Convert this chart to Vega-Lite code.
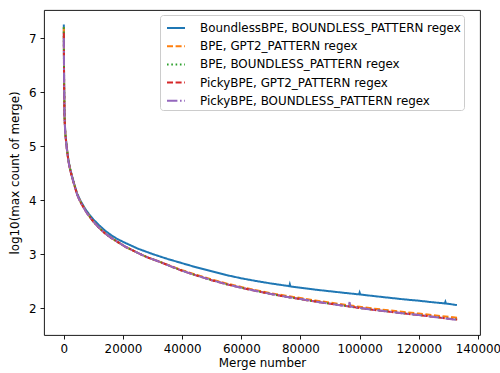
{
  "$schema": "https://vega.github.io/schema/vega-lite/v6.json",
  "width": 436,
  "height": 325,
  "autosize": {"type": "none"},
  "padding": {"left": 44, "top": 10, "right": 20, "bottom": 38},
  "config": {
    "view": {"stroke": "black", "strokeWidth": 0.9},
    "font": "DejaVu Sans",
    "axis": {
      "domain": false,
      "grid": false,
      "tickColor": "black",
      "tickSize": 4,
      "tickWidth": 0.9,
      "labelFont": "DejaVu Sans",
      "labelFontSize": 11.9,
      "labelColor": "black",
      "titleFont": "DejaVu Sans",
      "titleFontSize": 11.9,
      "titleFontWeight": "normal",
      "titleColor": "black",
      "labelPadding": 4
    }
  },
  "datasets": {
    "curves": [
      {"s": "BoundlessBPE, BOUNDLESS_PATTERN regex", "m": 0, "y": 7.25},
      {"s": "BoundlessBPE, BOUNDLESS_PATTERN regex", "m": 30, "y": 6.8},
      {"s": "BoundlessBPE, BOUNDLESS_PATTERN regex", "m": 100, "y": 6.18},
      {"s": "BoundlessBPE, BOUNDLESS_PATTERN regex", "m": 240, "y": 5.57},
      {"s": "BoundlessBPE, BOUNDLESS_PATTERN regex", "m": 500, "y": 5.25},
      {"s": "BoundlessBPE, BOUNDLESS_PATTERN regex", "m": 1000, "y": 4.98},
      {"s": "BoundlessBPE, BOUNDLESS_PATTERN regex", "m": 1500, "y": 4.76},
      {"s": "BoundlessBPE, BOUNDLESS_PATTERN regex", "m": 2000, "y": 4.61},
      {"s": "BoundlessBPE, BOUNDLESS_PATTERN regex", "m": 2700, "y": 4.46},
      {"s": "BoundlessBPE, BOUNDLESS_PATTERN regex", "m": 3400, "y": 4.32},
      {"s": "BoundlessBPE, BOUNDLESS_PATTERN regex", "m": 4500, "y": 4.12},
      {"s": "BoundlessBPE, BOUNDLESS_PATTERN regex", "m": 5600, "y": 3.99},
      {"s": "BoundlessBPE, BOUNDLESS_PATTERN regex", "m": 7300, "y": 3.83},
      {"s": "BoundlessBPE, BOUNDLESS_PATTERN regex", "m": 8500, "y": 3.74},
      {"s": "BoundlessBPE, BOUNDLESS_PATTERN regex", "m": 10000, "y": 3.64},
      {"s": "BoundlessBPE, BOUNDLESS_PATTERN regex", "m": 12000, "y": 3.53},
      {"s": "BoundlessBPE, BOUNDLESS_PATTERN regex", "m": 14000, "y": 3.43},
      {"s": "BoundlessBPE, BOUNDLESS_PATTERN regex", "m": 16000, "y": 3.35},
      {"s": "BoundlessBPE, BOUNDLESS_PATTERN regex", "m": 18000, "y": 3.28},
      {"s": "BoundlessBPE, BOUNDLESS_PATTERN regex", "m": 21000, "y": 3.2},
      {"s": "BoundlessBPE, BOUNDLESS_PATTERN regex", "m": 25000, "y": 3.1},
      {"s": "BoundlessBPE, BOUNDLESS_PATTERN regex", "m": 30000, "y": 3.0},
      {"s": "BoundlessBPE, BOUNDLESS_PATTERN regex", "m": 35000, "y": 2.91},
      {"s": "BoundlessBPE, BOUNDLESS_PATTERN regex", "m": 40000, "y": 2.83},
      {"s": "BoundlessBPE, BOUNDLESS_PATTERN regex", "m": 45000, "y": 2.75},
      {"s": "BoundlessBPE, BOUNDLESS_PATTERN regex", "m": 50000, "y": 2.68},
      {"s": "BoundlessBPE, BOUNDLESS_PATTERN regex", "m": 55000, "y": 2.61},
      {"s": "BoundlessBPE, BOUNDLESS_PATTERN regex", "m": 60000, "y": 2.55},
      {"s": "BoundlessBPE, BOUNDLESS_PATTERN regex", "m": 65000, "y": 2.5},
      {"s": "BoundlessBPE, BOUNDLESS_PATTERN regex", "m": 70000, "y": 2.455},
      {"s": "BoundlessBPE, BOUNDLESS_PATTERN regex", "m": 76200, "y": 2.405},
      {"s": "BoundlessBPE, BOUNDLESS_PATTERN regex", "m": 76400, "y": 2.44},
      {"s": "BoundlessBPE, BOUNDLESS_PATTERN regex", "m": 76600, "y": 2.4},
      {"s": "BoundlessBPE, BOUNDLESS_PATTERN regex", "m": 80000, "y": 2.375},
      {"s": "BoundlessBPE, BOUNDLESS_PATTERN regex", "m": 85000, "y": 2.34},
      {"s": "BoundlessBPE, BOUNDLESS_PATTERN regex", "m": 90000, "y": 2.31},
      {"s": "BoundlessBPE, BOUNDLESS_PATTERN regex", "m": 95000, "y": 2.28},
      {"s": "BoundlessBPE, BOUNDLESS_PATTERN regex", "m": 99800, "y": 2.252},
      {"s": "BoundlessBPE, BOUNDLESS_PATTERN regex", "m": 100000, "y": 2.285},
      {"s": "BoundlessBPE, BOUNDLESS_PATTERN regex", "m": 100200, "y": 2.25},
      {"s": "BoundlessBPE, BOUNDLESS_PATTERN regex", "m": 105000, "y": 2.22},
      {"s": "BoundlessBPE, BOUNDLESS_PATTERN regex", "m": 110000, "y": 2.19},
      {"s": "BoundlessBPE, BOUNDLESS_PATTERN regex", "m": 115000, "y": 2.16},
      {"s": "BoundlessBPE, BOUNDLESS_PATTERN regex", "m": 120000, "y": 2.135},
      {"s": "BoundlessBPE, BOUNDLESS_PATTERN regex", "m": 125000, "y": 2.105},
      {"s": "BoundlessBPE, BOUNDLESS_PATTERN regex", "m": 128800, "y": 2.085},
      {"s": "BoundlessBPE, BOUNDLESS_PATTERN regex", "m": 129000, "y": 2.115},
      {"s": "BoundlessBPE, BOUNDLESS_PATTERN regex", "m": 129200, "y": 2.083},
      {"s": "BoundlessBPE, BOUNDLESS_PATTERN regex", "m": 132900, "y": 2.055},

      {"s": "BPE, GPT2_PATTERN regex", "m": 0, "y": 7.2},
      {"s": "BPE, GPT2_PATTERN regex", "m": 30, "y": 6.78},
      {"s": "BPE, GPT2_PATTERN regex", "m": 100, "y": 6.16},
      {"s": "BPE, GPT2_PATTERN regex", "m": 240, "y": 5.55},
      {"s": "BPE, GPT2_PATTERN regex", "m": 500, "y": 5.23},
      {"s": "BPE, GPT2_PATTERN regex", "m": 1000, "y": 4.97},
      {"s": "BPE, GPT2_PATTERN regex", "m": 1500, "y": 4.75},
      {"s": "BPE, GPT2_PATTERN regex", "m": 2000, "y": 4.6},
      {"s": "BPE, GPT2_PATTERN regex", "m": 2700, "y": 4.45},
      {"s": "BPE, GPT2_PATTERN regex", "m": 3400, "y": 4.31},
      {"s": "BPE, GPT2_PATTERN regex", "m": 4500, "y": 4.11},
      {"s": "BPE, GPT2_PATTERN regex", "m": 5600, "y": 3.97},
      {"s": "BPE, GPT2_PATTERN regex", "m": 7300, "y": 3.81},
      {"s": "BPE, GPT2_PATTERN regex", "m": 8500, "y": 3.71},
      {"s": "BPE, GPT2_PATTERN regex", "m": 10000, "y": 3.6},
      {"s": "BPE, GPT2_PATTERN regex", "m": 12000, "y": 3.48},
      {"s": "BPE, GPT2_PATTERN regex", "m": 14000, "y": 3.38},
      {"s": "BPE, GPT2_PATTERN regex", "m": 16000, "y": 3.3},
      {"s": "BPE, GPT2_PATTERN regex", "m": 18000, "y": 3.23},
      {"s": "BPE, GPT2_PATTERN regex", "m": 21000, "y": 3.13},
      {"s": "BPE, GPT2_PATTERN regex", "m": 25000, "y": 3.02},
      {"s": "BPE, GPT2_PATTERN regex", "m": 28200, "y": 2.94},
      {"s": "BPE, GPT2_PATTERN regex", "m": 32700, "y": 2.85},
      {"s": "BPE, GPT2_PATTERN regex", "m": 36000, "y": 2.78},
      {"s": "BPE, GPT2_PATTERN regex", "m": 40000, "y": 2.7},
      {"s": "BPE, GPT2_PATTERN regex", "m": 45000, "y": 2.61},
      {"s": "BPE, GPT2_PATTERN regex", "m": 50000, "y": 2.53},
      {"s": "BPE, GPT2_PATTERN regex", "m": 55000, "y": 2.455},
      {"s": "BPE, GPT2_PATTERN regex", "m": 60000, "y": 2.39},
      {"s": "BPE, GPT2_PATTERN regex", "m": 65000, "y": 2.33},
      {"s": "BPE, GPT2_PATTERN regex", "m": 70000, "y": 2.275},
      {"s": "BPE, GPT2_PATTERN regex", "m": 75000, "y": 2.228},
      {"s": "BPE, GPT2_PATTERN regex", "m": 80000, "y": 2.184},
      {"s": "BPE, GPT2_PATTERN regex", "m": 85000, "y": 2.14},
      {"s": "BPE, GPT2_PATTERN regex", "m": 90000, "y": 2.1},
      {"s": "BPE, GPT2_PATTERN regex", "m": 95000, "y": 2.06},
      {"s": "BPE, GPT2_PATTERN regex", "m": 100000, "y": 2.022},
      {"s": "BPE, GPT2_PATTERN regex", "m": 105000, "y": 1.988},
      {"s": "BPE, GPT2_PATTERN regex", "m": 110000, "y": 1.956},
      {"s": "BPE, GPT2_PATTERN regex", "m": 115000, "y": 1.925},
      {"s": "BPE, GPT2_PATTERN regex", "m": 120000, "y": 1.897},
      {"s": "BPE, GPT2_PATTERN regex", "m": 125000, "y": 1.865},
      {"s": "BPE, GPT2_PATTERN regex", "m": 133800, "y": 1.815},

      {"s": "BPE, BOUNDLESS_PATTERN regex", "m": 0, "y": 7.2},
      {"s": "BPE, BOUNDLESS_PATTERN regex", "m": 30, "y": 6.78},
      {"s": "BPE, BOUNDLESS_PATTERN regex", "m": 100, "y": 6.16},
      {"s": "BPE, BOUNDLESS_PATTERN regex", "m": 240, "y": 5.55},
      {"s": "BPE, BOUNDLESS_PATTERN regex", "m": 500, "y": 5.23},
      {"s": "BPE, BOUNDLESS_PATTERN regex", "m": 1000, "y": 4.97},
      {"s": "BPE, BOUNDLESS_PATTERN regex", "m": 1500, "y": 4.75},
      {"s": "BPE, BOUNDLESS_PATTERN regex", "m": 2000, "y": 4.6},
      {"s": "BPE, BOUNDLESS_PATTERN regex", "m": 2700, "y": 4.45},
      {"s": "BPE, BOUNDLESS_PATTERN regex", "m": 3400, "y": 4.31},
      {"s": "BPE, BOUNDLESS_PATTERN regex", "m": 4500, "y": 4.11},
      {"s": "BPE, BOUNDLESS_PATTERN regex", "m": 5600, "y": 3.97},
      {"s": "BPE, BOUNDLESS_PATTERN regex", "m": 7300, "y": 3.81},
      {"s": "BPE, BOUNDLESS_PATTERN regex", "m": 8500, "y": 3.71},
      {"s": "BPE, BOUNDLESS_PATTERN regex", "m": 10000, "y": 3.6},
      {"s": "BPE, BOUNDLESS_PATTERN regex", "m": 12000, "y": 3.48},
      {"s": "BPE, BOUNDLESS_PATTERN regex", "m": 14000, "y": 3.38},
      {"s": "BPE, BOUNDLESS_PATTERN regex", "m": 16000, "y": 3.3},
      {"s": "BPE, BOUNDLESS_PATTERN regex", "m": 18000, "y": 3.23},
      {"s": "BPE, BOUNDLESS_PATTERN regex", "m": 21000, "y": 3.13},
      {"s": "BPE, BOUNDLESS_PATTERN regex", "m": 25000, "y": 3.02},
      {"s": "BPE, BOUNDLESS_PATTERN regex", "m": 28200, "y": 2.94},
      {"s": "BPE, BOUNDLESS_PATTERN regex", "m": 32700, "y": 2.85},
      {"s": "BPE, BOUNDLESS_PATTERN regex", "m": 36000, "y": 2.775},
      {"s": "BPE, BOUNDLESS_PATTERN regex", "m": 40000, "y": 2.69},
      {"s": "BPE, BOUNDLESS_PATTERN regex", "m": 45000, "y": 2.6},
      {"s": "BPE, BOUNDLESS_PATTERN regex", "m": 50000, "y": 2.515},
      {"s": "BPE, BOUNDLESS_PATTERN regex", "m": 55000, "y": 2.44},
      {"s": "BPE, BOUNDLESS_PATTERN regex", "m": 60000, "y": 2.375},
      {"s": "BPE, BOUNDLESS_PATTERN regex", "m": 65000, "y": 2.315},
      {"s": "BPE, BOUNDLESS_PATTERN regex", "m": 70000, "y": 2.26},
      {"s": "BPE, BOUNDLESS_PATTERN regex", "m": 75000, "y": 2.21},
      {"s": "BPE, BOUNDLESS_PATTERN regex", "m": 80000, "y": 2.165},
      {"s": "BPE, BOUNDLESS_PATTERN regex", "m": 85000, "y": 2.12},
      {"s": "BPE, BOUNDLESS_PATTERN regex", "m": 90000, "y": 2.08},
      {"s": "BPE, BOUNDLESS_PATTERN regex", "m": 95000, "y": 2.04},
      {"s": "BPE, BOUNDLESS_PATTERN regex", "m": 100000, "y": 2.0},
      {"s": "BPE, BOUNDLESS_PATTERN regex", "m": 105000, "y": 1.965},
      {"s": "BPE, BOUNDLESS_PATTERN regex", "m": 110000, "y": 1.932},
      {"s": "BPE, BOUNDLESS_PATTERN regex", "m": 115000, "y": 1.9},
      {"s": "BPE, BOUNDLESS_PATTERN regex", "m": 120000, "y": 1.87},
      {"s": "BPE, BOUNDLESS_PATTERN regex", "m": 125000, "y": 1.837},
      {"s": "BPE, BOUNDLESS_PATTERN regex", "m": 133500, "y": 1.785},

      {"s": "PickyBPE, GPT2_PATTERN regex", "m": 0, "y": 7.1},
      {"s": "PickyBPE, GPT2_PATTERN regex", "m": 30, "y": 6.77},
      {"s": "PickyBPE, GPT2_PATTERN regex", "m": 100, "y": 6.15},
      {"s": "PickyBPE, GPT2_PATTERN regex", "m": 240, "y": 5.54},
      {"s": "PickyBPE, GPT2_PATTERN regex", "m": 500, "y": 5.22},
      {"s": "PickyBPE, GPT2_PATTERN regex", "m": 1000, "y": 4.96},
      {"s": "PickyBPE, GPT2_PATTERN regex", "m": 1500, "y": 4.74},
      {"s": "PickyBPE, GPT2_PATTERN regex", "m": 2000, "y": 4.59},
      {"s": "PickyBPE, GPT2_PATTERN regex", "m": 2700, "y": 4.44},
      {"s": "PickyBPE, GPT2_PATTERN regex", "m": 3400, "y": 4.3},
      {"s": "PickyBPE, GPT2_PATTERN regex", "m": 4500, "y": 4.1},
      {"s": "PickyBPE, GPT2_PATTERN regex", "m": 5600, "y": 3.96},
      {"s": "PickyBPE, GPT2_PATTERN regex", "m": 7300, "y": 3.8},
      {"s": "PickyBPE, GPT2_PATTERN regex", "m": 8500, "y": 3.7},
      {"s": "PickyBPE, GPT2_PATTERN regex", "m": 10000, "y": 3.6},
      {"s": "PickyBPE, GPT2_PATTERN regex", "m": 12000, "y": 3.48},
      {"s": "PickyBPE, GPT2_PATTERN regex", "m": 14000, "y": 3.38},
      {"s": "PickyBPE, GPT2_PATTERN regex", "m": 16000, "y": 3.3},
      {"s": "PickyBPE, GPT2_PATTERN regex", "m": 18000, "y": 3.23},
      {"s": "PickyBPE, GPT2_PATTERN regex", "m": 21000, "y": 3.13},
      {"s": "PickyBPE, GPT2_PATTERN regex", "m": 25000, "y": 3.02},
      {"s": "PickyBPE, GPT2_PATTERN regex", "m": 28200, "y": 2.94},
      {"s": "PickyBPE, GPT2_PATTERN regex", "m": 32700, "y": 2.85},
      {"s": "PickyBPE, GPT2_PATTERN regex", "m": 36000, "y": 2.775},
      {"s": "PickyBPE, GPT2_PATTERN regex", "m": 40000, "y": 2.69},
      {"s": "PickyBPE, GPT2_PATTERN regex", "m": 45000, "y": 2.6},
      {"s": "PickyBPE, GPT2_PATTERN regex", "m": 50000, "y": 2.515},
      {"s": "PickyBPE, GPT2_PATTERN regex", "m": 55000, "y": 2.44},
      {"s": "PickyBPE, GPT2_PATTERN regex", "m": 60000, "y": 2.375},
      {"s": "PickyBPE, GPT2_PATTERN regex", "m": 65000, "y": 2.315},
      {"s": "PickyBPE, GPT2_PATTERN regex", "m": 70000, "y": 2.26},
      {"s": "PickyBPE, GPT2_PATTERN regex", "m": 75000, "y": 2.21},
      {"s": "PickyBPE, GPT2_PATTERN regex", "m": 80000, "y": 2.165},
      {"s": "PickyBPE, GPT2_PATTERN regex", "m": 85000, "y": 2.12},
      {"s": "PickyBPE, GPT2_PATTERN regex", "m": 90000, "y": 2.08},
      {"s": "PickyBPE, GPT2_PATTERN regex", "m": 95000, "y": 2.04},
      {"s": "PickyBPE, GPT2_PATTERN regex", "m": 100000, "y": 2.0},
      {"s": "PickyBPE, GPT2_PATTERN regex", "m": 105000, "y": 1.965},
      {"s": "PickyBPE, GPT2_PATTERN regex", "m": 110000, "y": 1.932},
      {"s": "PickyBPE, GPT2_PATTERN regex", "m": 115000, "y": 1.9},
      {"s": "PickyBPE, GPT2_PATTERN regex", "m": 120000, "y": 1.87},
      {"s": "PickyBPE, GPT2_PATTERN regex", "m": 125000, "y": 1.837},
      {"s": "PickyBPE, GPT2_PATTERN regex", "m": 133000, "y": 1.785},

      {"s": "PickyBPE, BOUNDLESS_PATTERN regex", "m": 0, "y": 7.0},
      {"s": "PickyBPE, BOUNDLESS_PATTERN regex", "m": 30, "y": 6.76},
      {"s": "PickyBPE, BOUNDLESS_PATTERN regex", "m": 100, "y": 6.14},
      {"s": "PickyBPE, BOUNDLESS_PATTERN regex", "m": 240, "y": 5.53},
      {"s": "PickyBPE, BOUNDLESS_PATTERN regex", "m": 500, "y": 5.21},
      {"s": "PickyBPE, BOUNDLESS_PATTERN regex", "m": 1000, "y": 4.95},
      {"s": "PickyBPE, BOUNDLESS_PATTERN regex", "m": 1500, "y": 4.74},
      {"s": "PickyBPE, BOUNDLESS_PATTERN regex", "m": 2000, "y": 4.59},
      {"s": "PickyBPE, BOUNDLESS_PATTERN regex", "m": 2700, "y": 4.44},
      {"s": "PickyBPE, BOUNDLESS_PATTERN regex", "m": 3400, "y": 4.3},
      {"s": "PickyBPE, BOUNDLESS_PATTERN regex", "m": 4500, "y": 4.1},
      {"s": "PickyBPE, BOUNDLESS_PATTERN regex", "m": 5600, "y": 3.96},
      {"s": "PickyBPE, BOUNDLESS_PATTERN regex", "m": 7300, "y": 3.8},
      {"s": "PickyBPE, BOUNDLESS_PATTERN regex", "m": 8500, "y": 3.7},
      {"s": "PickyBPE, BOUNDLESS_PATTERN regex", "m": 10000, "y": 3.6},
      {"s": "PickyBPE, BOUNDLESS_PATTERN regex", "m": 12000, "y": 3.48},
      {"s": "PickyBPE, BOUNDLESS_PATTERN regex", "m": 14000, "y": 3.38},
      {"s": "PickyBPE, BOUNDLESS_PATTERN regex", "m": 16000, "y": 3.3},
      {"s": "PickyBPE, BOUNDLESS_PATTERN regex", "m": 18000, "y": 3.23},
      {"s": "PickyBPE, BOUNDLESS_PATTERN regex", "m": 21000, "y": 3.13},
      {"s": "PickyBPE, BOUNDLESS_PATTERN regex", "m": 25000, "y": 3.02},
      {"s": "PickyBPE, BOUNDLESS_PATTERN regex", "m": 28200, "y": 2.94},
      {"s": "PickyBPE, BOUNDLESS_PATTERN regex", "m": 32700, "y": 2.85},
      {"s": "PickyBPE, BOUNDLESS_PATTERN regex", "m": 36000, "y": 2.775},
      {"s": "PickyBPE, BOUNDLESS_PATTERN regex", "m": 40000, "y": 2.69},
      {"s": "PickyBPE, BOUNDLESS_PATTERN regex", "m": 45000, "y": 2.6},
      {"s": "PickyBPE, BOUNDLESS_PATTERN regex", "m": 50000, "y": 2.515},
      {"s": "PickyBPE, BOUNDLESS_PATTERN regex", "m": 55000, "y": 2.44},
      {"s": "PickyBPE, BOUNDLESS_PATTERN regex", "m": 60000, "y": 2.375},
      {"s": "PickyBPE, BOUNDLESS_PATTERN regex", "m": 65000, "y": 2.315},
      {"s": "PickyBPE, BOUNDLESS_PATTERN regex", "m": 70000, "y": 2.26},
      {"s": "PickyBPE, BOUNDLESS_PATTERN regex", "m": 75000, "y": 2.21},
      {"s": "PickyBPE, BOUNDLESS_PATTERN regex", "m": 80000, "y": 2.165},
      {"s": "PickyBPE, BOUNDLESS_PATTERN regex", "m": 85000, "y": 2.12},
      {"s": "PickyBPE, BOUNDLESS_PATTERN regex", "m": 90000, "y": 2.08},
      {"s": "PickyBPE, BOUNDLESS_PATTERN regex", "m": 95000, "y": 2.04},
      {"s": "PickyBPE, BOUNDLESS_PATTERN regex", "m": 96300, "y": 2.03},
      {"s": "PickyBPE, BOUNDLESS_PATTERN regex", "m": 96600, "y": 2.11},
      {"s": "PickyBPE, BOUNDLESS_PATTERN regex", "m": 96900, "y": 2.026},
      {"s": "PickyBPE, BOUNDLESS_PATTERN regex", "m": 100000, "y": 2.0},
      {"s": "PickyBPE, BOUNDLESS_PATTERN regex", "m": 105000, "y": 1.965},
      {"s": "PickyBPE, BOUNDLESS_PATTERN regex", "m": 110000, "y": 1.932},
      {"s": "PickyBPE, BOUNDLESS_PATTERN regex", "m": 115000, "y": 1.9},
      {"s": "PickyBPE, BOUNDLESS_PATTERN regex", "m": 120000, "y": 1.87},
      {"s": "PickyBPE, BOUNDLESS_PATTERN regex", "m": 125000, "y": 1.835},
      {"s": "PickyBPE, BOUNDLESS_PATTERN regex", "m": 133000, "y": 1.78}
    ]
  },
  "data": {"name": "curves"},
  "mark": {"type": "line", "strokeWidth": 2, "clip": true},
  "encoding": {
    "x": {
      "field": "m",
      "type": "quantitative",
      "title": "Merge number",
      "scale": {"domain": [-6700, 140700], "nice": false, "zero": false},
      "axis": {"values": [0, 20000, 40000, 60000, 80000, 100000, 120000, 140000], "format": "d", "titlePadding": 4}
    },
    "y": {
      "field": "y",
      "type": "quantitative",
      "title": "log10(max count of merge)",
      "scale": {"domain": [1.5, 7.52], "nice": false, "zero": false},
      "axis": {"values": [2, 3, 4, 5, 6, 7], "format": "d", "titlePadding": 8}
    },
    "color": {
      "field": "s",
      "type": "nominal",
      "scale": {
        "domain": ["BoundlessBPE, BOUNDLESS_PATTERN regex", "BPE, GPT2_PATTERN regex", "BPE, BOUNDLESS_PATTERN regex", "PickyBPE, GPT2_PATTERN regex", "PickyBPE, BOUNDLESS_PATTERN regex"],
        "range": ["#1f77b4", "#ff7f0e", "#2ca02c", "#d62728", "#9467bd"]
      },
      "legend": {
        "title": null,
        "orient": "none",
        "legendX": 116,
        "legendY": 5,
        "symbolType": "stroke",
        "symbolSize": 324,
        "symbolStrokeWidth": 2,
        "symbolOffset": 3,
        "labelFontSize": 11.9,
        "labelFont": "DejaVu Sans",
        "labelColor": "black",
        "labelOffset": 14,
        "labelLimit": 400,
        "rowPadding": 2.2,
        "padding": 3,
        "strokeColor": "#cccccc",
        "fillColor": "white",
        "cornerRadius": 3
      }
    },
    "strokeDash": {
      "field": "s",
      "type": "nominal",
      "scale": {
        "domain": ["BoundlessBPE, BOUNDLESS_PATTERN regex", "BPE, GPT2_PATTERN regex", "BPE, BOUNDLESS_PATTERN regex", "PickyBPE, GPT2_PATTERN regex", "PickyBPE, BOUNDLESS_PATTERN regex"],
        "range": [[1, 0], [6, 2.6], [1.6, 2.7], [6, 2.6], [10.4, 2.6, 1.6, 2.6]]
      },
      "legend": null
    }
  }
}
